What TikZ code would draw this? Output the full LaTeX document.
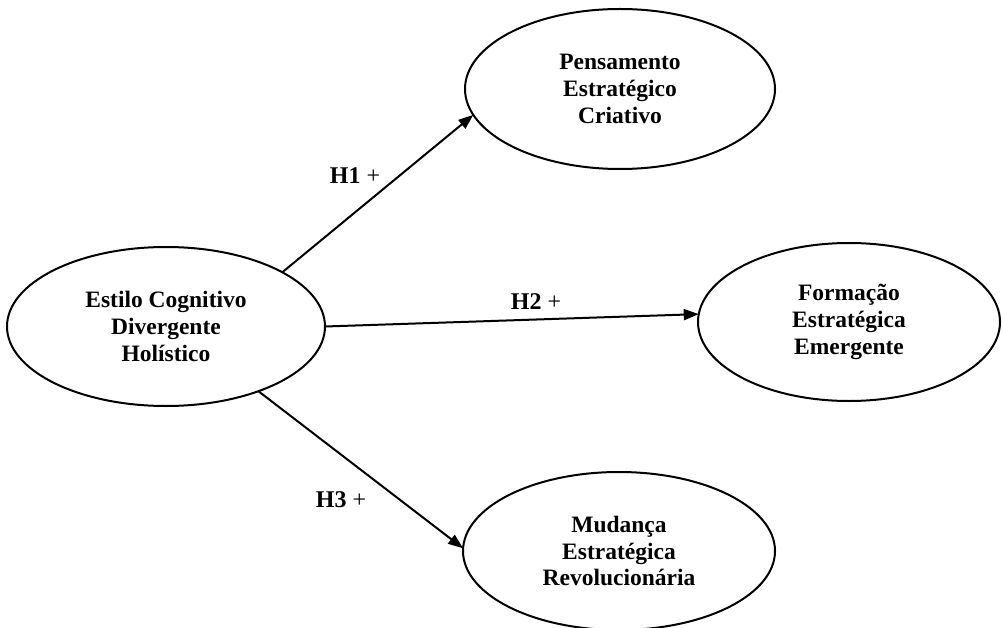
\documentclass[tikz,border=0pt]{standalone}
\usepackage{fontspec}
\setmainfont{Liberation Serif}
\usetikzlibrary{shapes.geometric,arrows.meta}
\tikzset{
  construct/.style={ellipse, draw, line width=2pt, inner sep=0pt, outer sep=0pt,
    align=center, font=\fontsize{23.5}{26.7}\selectfont\bfseries},
  hyp/.style={line width=2pt, -{Triangle[length=15pt,width=11pt]}},
  hyplabel/.style={inner sep=0pt, font=\fontsize{24}{28}\selectfont}
}
\begin{document}
\begin{tikzpicture}[x=1pt,y=-1pt]
\useasboundingbox (0,0) rectangle (1003,628);
\node[construct, minimum width=318pt, minimum height=159pt] (L) at (166,326.5) {Estilo Cognitivo\\Divergente\\Holístico};
\node[construct, minimum width=310pt, minimum height=160pt] (T) at (620,89) {Pensamento\\Estratégico\\Criativo};
\node[construct, minimum width=302pt, minimum height=158pt] (R) at (849,322) {Formação\\Estratégica\\Emergente};
\node[construct, minimum width=312pt, minimum height=158pt] (B) at (619,551) {Mudança\\Estratégica\\Revolucionária};
\draw[hyp] (L.25) -- (T.190);
\draw[hyp] (L.0.5) -- (R.177);
\draw[hyp] (L.-35.3) -- (B.179);
\node[hyplabel] (h1) at (355,176) {\textbf{H1} +};
\node[hyplabel] (h2) at (536,302) {\textbf{H2} +};
\node[hyplabel] (h3) at (341,500) {\textbf{H3} +};
\end{tikzpicture}
\end{document}
